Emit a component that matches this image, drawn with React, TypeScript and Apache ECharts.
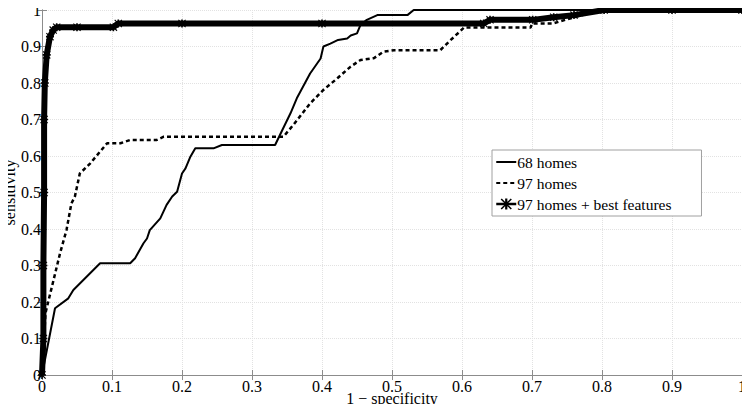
import React, { useEffect, useRef } from "react";
import * as echarts from "echarts";

const seriesNames = ["68 homes", "97 homes", "97 homes + best features"];

const homes68: [number, number][] = [
  [0, 0], [0.0186, 0.183], [0.0376, 0.21], [0.0448, 0.233], [0.083, 0.306], [0.126, 0.306],
  [0.133, 0.32], [0.145, 0.361], [0.15, 0.374], [0.154, 0.397], [0.169, 0.429], [0.178, 0.466],
  [0.186, 0.489], [0.193, 0.502], [0.2, 0.552], [0.205, 0.566], [0.212, 0.598], [0.219, 0.621],
  [0.245, 0.621], [0.257, 0.63], [0.333, 0.63], [0.343, 0.67], [0.355, 0.717], [0.364, 0.758],
  [0.383, 0.826], [0.398, 0.867], [0.402, 0.9], [0.412, 0.908], [0.423, 0.918], [0.436, 0.922],
  [0.441, 0.93], [0.45, 0.936], [0.455, 0.959], [0.464, 0.973], [0.479, 0.986], [0.522, 0.986],
  [0.531, 1.0], [1, 1],
];

const homes97: [number, number][] = [
  [0, 0], [0.005, 0.17], [0.011, 0.217], [0.026, 0.335], [0.035, 0.397], [0.042, 0.47],
  [0.047, 0.489], [0.054, 0.552], [0.069, 0.58], [0.083, 0.612], [0.093, 0.635], [0.112, 0.635],
  [0.126, 0.644], [0.164, 0.644], [0.174, 0.653], [0.345, 0.653], [0.359, 0.685], [0.383, 0.744],
  [0.402, 0.781], [0.422, 0.813], [0.441, 0.845], [0.455, 0.863], [0.474, 0.868], [0.488, 0.886],
  [0.503, 0.89], [0.569, 0.89], [0.584, 0.918], [0.603, 0.952], [0.698, 0.952], [0.7, 0.963],
  [0.73, 0.963], [0.76, 0.98], [0.8, 1], [1, 1],
];

const bestFeatures: [number, number][] = [
  [0, 0], [0.002, 0.1], [0.002, 0.3], [0.003, 0.5], [0.003, 0.7], [0.004, 0.8], [0.0067, 0.877],
  [0.0114, 0.927], [0.016, 0.945], [0.021, 0.953], [0.05, 0.953], [0.102, 0.953], [0.109, 0.963],
  [0.2, 0.963], [0.4, 0.963], [0.631, 0.963], [0.64, 0.973], [0.701, 0.973], [0.731, 0.98],
  [0.76, 0.986], [0.803, 1.0], [0.9, 1.0], [1, 1],
];

const xTickLabels = ["0", "0.1", "0.2", "0.3", "0.4", "0.5", "0.6", "0.7", "0.8", "0.9", "1"];
const yTickLabels = ["0", "0.1", "0.2", "0.3", "0.4", "0.5", "0.6", "0.7", "0.8", "0.9", "1"];

const FONT = "Liberation Serif";
const ASTERISK =
  "path://M4,0 L6,0 L6,10 L4,10 Z M0,4 L10,4 L10,6 L0,6 Z M1,0 L10,9 L9,10 L0,1 Z M9,0 L10,1 L1,10 L0,9 Z";

export default function App() {
  const ref = useRef<HTMLDivElement>(null);
  useEffect(() => {
    if (!ref.current) return;
    const chart = echarts.init(ref.current, undefined, { renderer: "svg" });
    const fmt = (labels: string[]) => (v: number) => labels[Math.round(v * 10)] ?? "";
    const gridLine = { show: true, lineStyle: { color: "#e2e2e2", type: "dotted" as const, width: 1 } };
    const axisLine = { show: true, lineStyle: { color: "#8c8c8c", width: 1 } };
    const tick = { show: true, inside: true, length: 5, lineStyle: { color: "#8c8c8c" } };
    chart.setOption({
      animation: false,
      backgroundColor: "#ffffff",
      textStyle: { fontFamily: FONT },
      grid: { left: 42, right: 8, top: 10, bottom: 37, containLabel: false, outerBoundsMode: "none" },
      legend: {
        orient: "vertical",
        left: 492,
        top: 150,
        padding: [4, 30, 4, 3],
        itemGap: 5,
        itemWidth: 20,
        itemHeight: 14,
        backgroundColor: "#ffffff",
        borderColor: "#a0a0a0",
        borderWidth: 1,
        borderRadius: 0,
        textStyle: { fontFamily: FONT, fontSize: 15.5, color: "#000", padding: [0, 0, 0, -4] },
        data: [
          { name: seriesNames[0], itemStyle: { color: "rgba(0,0,0,0)", borderWidth: 0 } },
          { name: seriesNames[1], itemStyle: { color: "rgba(0,0,0,0)", borderWidth: 0 } },
          { name: seriesNames[2], lineStyle: { width: 2.5 } },
        ],
      },
      xAxis: [
        {
          type: "value", min: 0, max: 1, interval: 0.1,
          name: "1 − specificity", nameLocation: "middle", nameGap: 15, nameMoveOverlap: false,
          nameTextStyle: { fontFamily: FONT, fontSize: 16, color: "#000" },
          axisLine, axisTick: tick, splitLine: gridLine,
          axisLabel: { fontFamily: FONT, fontSize: 16, color: "#000", margin: 3, formatter: fmt(xTickLabels) },
        },
        {
          type: "value", min: 0, max: 1, interval: 0.1, position: "top",
          axisLine, axisTick: tick, splitLine: { show: false }, axisLabel: { show: false },
        },
      ],
      yAxis: [
        {
          type: "value", min: 0, max: 1, interval: 0.1,
          name: "sensitivity", nameLocation: "middle", nameGap: 25, nameMoveOverlap: false,
          nameTextStyle: { fontFamily: FONT, fontSize: 16, color: "#000" },
          axisLine, axisTick: tick, splitLine: gridLine,
          axisLabel: { fontFamily: FONT, fontSize: 16, color: "#000", margin: 1, formatter: fmt(yTickLabels) },
        },
        {
          type: "value", min: 0, max: 1, interval: 0.1, position: "right",
          axisLine, axisTick: tick, splitLine: { show: false }, axisLabel: { show: false },
        },
      ],
      series: [
        {
          name: seriesNames[0], type: "line", data: homes68, showSymbol: false, symbol: "none",
          lineStyle: { color: "#000", width: 2 }, itemStyle: { color: "#000" }, z: 3,
        },
        {
          name: seriesNames[1], type: "line", data: homes97, showSymbol: false, symbol: "none",
          lineStyle: { color: "#000", width: 2.5, type: [4, 3] }, itemStyle: { color: "#000" }, z: 3,
        },
        {
          name: seriesNames[2], type: "line", data: bestFeatures, clip: false,
          symbol: ASTERISK, symbolSize: 8, showSymbol: true,
          lineStyle: { color: "#000", width: 6 }, itemStyle: { color: "#000" }, z: 4,
        },
      ],
    });
    return () => chart.dispose();
  }, []);
  return <div ref={ref} style={{ width: 750, height: 412, margin: -8 }} />;
}
